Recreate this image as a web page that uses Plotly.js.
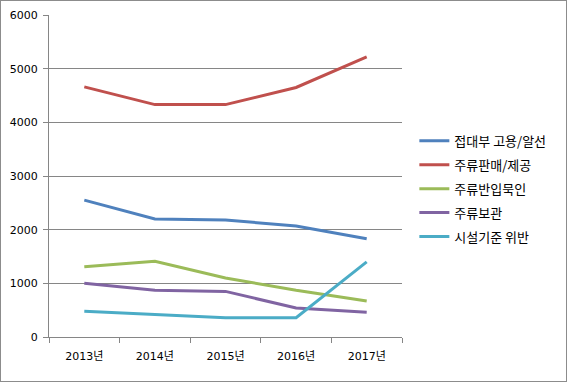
<!DOCTYPE html>
<html><head><meta charset="utf-8">
<script src="https://cdn.plot.ly/plotly-3.0.1.min.js"></script>
<style>
html,body{margin:0;padding:0;background:#fff;}
#c{width:567px;height:382px;box-sizing:border-box;border:1px solid #8c8c8c;}
</style></head>
<body><div id="c"></div>
<script>
const years = ['2013년','2014년','2015년','2016년','2017년'];
const seriesNames = ['접대부 고용/알선','주류판매/제공','주류반입묵인','주류보관','시설기준 위반'];
const hiring = [2550, 2200, 2180, 2070, 1830];
const selling = [4660, 4330, 4330, 4650, 5220];
const bringIn = [1310, 1410, 1100, 870, 670];
const storage = [1000, 870, 850, 540, 460];
const facility = [480, 420, 360, 360, 1400];
const colors = ['#4F81BD','#C0504D','#9BBB59','#8064A2','#4BACC6'];
const allSeries = [hiring, selling, bringIn, storage, facility];

const traces = allSeries.map((vals, i) => ({
  type: 'scatter', mode: 'lines', x: years, y: vals, name: seriesNames[i],
  legendgroup: 'g' + i,
  line: {color: colors[i], width: 3},
  hoverinfo: 'skip'
}));

const tickFont = {family: 'DejaVu Sans, Noto Sans CJK KR, sans-serif', size: 11, color: '#000'};
const layout = {
  width: 565, height: 380,
  margin: {l: 48, r: 164, t: 14, b: 44},
  paper_bgcolor: '#fff', plot_bgcolor: '#fff',
  showlegend: true,
  legend: {
    x: 1.035, xanchor: 'left', y: 0.46, yanchor: 'middle',
    font: {family: 'Noto Sans CJK KR, sans-serif', size: 13, color: '#000'},
    tracegroupgap: 4, traceorder: 'grouped'
  },
  xaxis: {
    type: 'category', range: [-0.5, 4.5], tickfont: tickFont,
    showline: true, linecolor: '#868686', linewidth: 1,
    ticks: 'outside', ticklen: 5, tickcolor: '#868686', tickson: 'boundaries',
    ticklabelstandoff: 9,
    showgrid: false, zeroline: false, fixedrange: true
  },
  yaxis: {
    range: [0, 6000], dtick: 1000, tickfont: tickFont,
    showline: true, linecolor: '#868686', linewidth: 1,
    ticks: 'outside', ticklen: 5, tickcolor: '#868686',
    ticklabelstandoff: 3,
    showgrid: true, gridcolor: '#868686', gridwidth: 1,
    zeroline: false, fixedrange: true
  }
};
Plotly.newPlot('c', traces, layout, {displayModeBar: false, staticPlot: true});
</script></body></html>
